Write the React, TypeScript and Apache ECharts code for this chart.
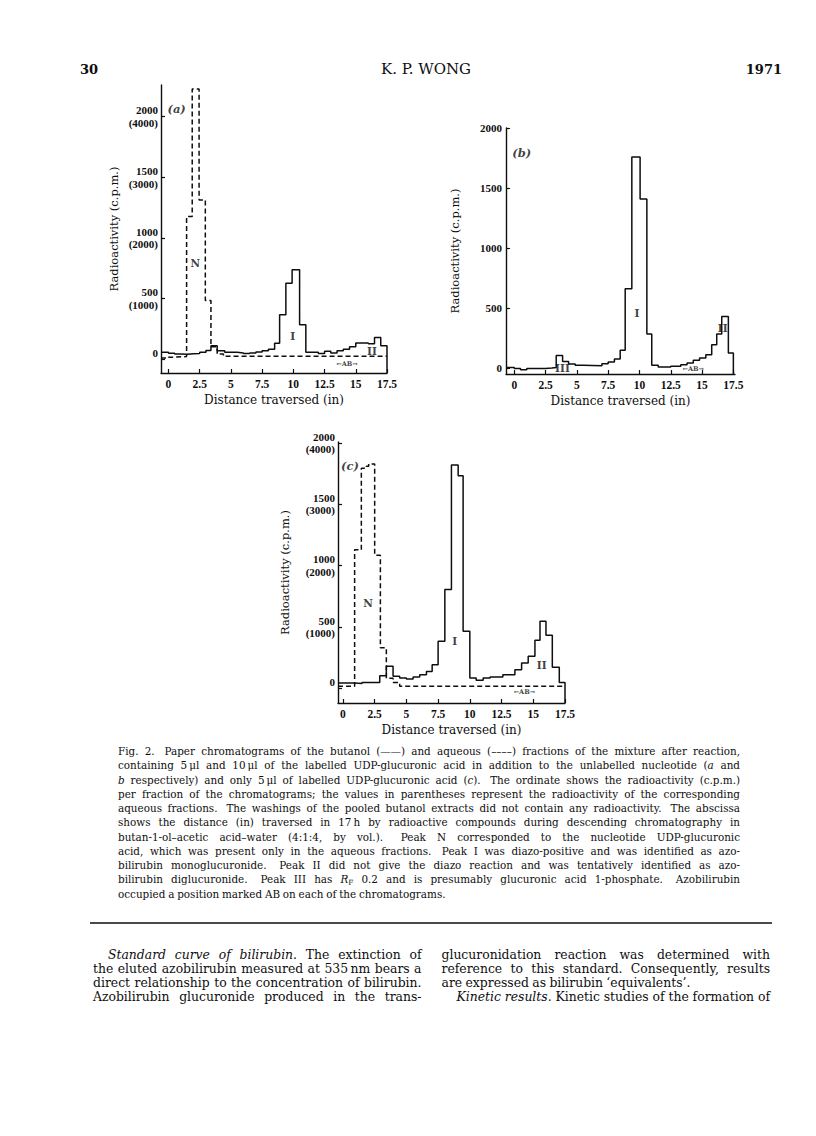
import React, { useEffect, useRef } from "react";
import * as echarts from "echarts";

const SERIF = '"DejaVu Serif", "Liberation Serif", serif';
const TICKFONT = '"Liberation Serif", "DejaVu Serif", serif';
const INK = "#0e0e0e";

// ---------- axis ticks ----------
const X_TICKS = [0, 2.5, 5, 7.5, 10, 12.5, 15, 17.5];
const Y_TICKS = [0, 500, 1000, 1500, 2000];

// ---------- panel (a) ----------
const A_X_RANGE = [-0.6, 17.5];
const A_Y_RANGE = [-116, 2262];
const A_BUT_EDGES = [-0.6, 0, 0.5, 1.0, 1.5, 2.0, 2.5, 3.0, 3.4, 3.9, 4.5, 5.5, 6.0, 6.5, 7.0, 7.5, 8.0, 8.5, 8.9, 9.4, 9.9, 10.5, 11.0, 12.0, 12.5, 13.0, 13.5, 14.0, 14.5, 15.0, 16.0, 16.5, 17.0, 17.5];
const A_BUT_VALUES = [55, 48, 40, 38, 42, 45, 55, 70, 108, 68, 55, 50, 44, 50, 58, 68, 80, 130, 365, 626, 736, 283, 55, 44, 63, 50, 68, 80, 100, 132, 126, 178, 110];
const A_AQ_EDGES = [-0.6, 0, 0.5, 1.45, 1.9, 2.45, 2.95, 3.4, 3.9, 4.4, 17.5];
const A_AQ_VALUES = [8, 15, 20, 1176, 2228, 1313, 483, 100, 40, 22];
const A_NOTES: [number, number, string][] = [
  [0.65, 2060, "(a)"],
  [2.15, 790, "N"],
  [9.95, 190, "I"],
  [16.3, 63, "II"],
  [14.3, -45, "←AB→"],
];

// ---------- panel (b) ----------
const B_X_RANGE = [-0.66, 17.63];
const B_Y_RANGE = [-50, 2000];
const B_EDGES = [-0.66, 0, 0.5, 1.0, 2.5, 3.0, 3.35, 3.86, 4.34, 4.87, 5.5, 7.0, 7.5, 8.0, 8.46, 8.86, 9.39, 10.05, 10.59, 10.98, 11.5, 12.5, 13.3, 13.8, 14.3, 14.8, 15.3, 15.77, 16.17, 16.57, 17.1, 17.5];
const B_VALUES = [5, -5, -14, -5, 0, 5, 105, 55, 33, 22, 19, 36, 50, 75, 147, 661, 1758, 1408, 283, 22, 8, 14, 28, 42, 64, 83, 111, 194, 283, 430, 125];
const B_NOTES: [number, number, string][] = [
  [0.6, 1790, "(b)"],
  [9.8, 460, "I"],
  [3.85, -2, "III"],
  [16.65, 333, "II"],
  [14.3, -10, "←AB→"],
];

// ---------- panel (c) ----------
const C_X_RANGE = [-0.39, 17.5];
const C_Y_RANGE = [-122, 2008];
const C_BUT_EDGES = [-0.39, 0.9, 1.5, 2.9, 3.42, 3.95, 4.47, 5.0, 5.53, 6.05, 6.58, 7.03, 7.5, 8.03, 8.55, 9.08, 9.47, 10.0, 10.5, 11.05, 11.6, 12.6, 13.55, 14.08, 14.6, 15.13, 15.53, 16.0, 16.5, 17.05, 17.5];
const C_BUT_VALUES = [41, 38, 45, 100, 177, 96, 82, 74, 90, 109, 136, 191, 382, 805, 1821, 1733, 464, 82, 63, 82, 90, 109, 150, 205, 259, 390, 546, 431, 169, 46];
const C_AQ_EDGES = [-0.39, 0.92, 1.45, 1.84, 2.03, 2.5, 2.95, 3.42, 3.95, 4.47, 17.5];
const C_AQ_VALUES = [14, 1128, 1794, 1810, 1829, 1084, 328, 80, 45, 14];
const C_NOTES: [number, number, string][] = [
  [0.55, 1815, "(c)"],
  [1.97, 696, "N"],
  [8.8, 382, "I"],
  [15.66, 191, "II"],
  [14.3, -35, "←AB→"],
];

// ---------- page text ----------
const HEADER = ["30", "K. P. WONG", "1971"];
const CAPTION_LINES = [
  "Fig. 2.  Paper chromatograms of the butanol (——) and aqueous (––––) fractions of the mixture after reaction,",
  "containing 5\u2009μl and 10\u2009μl of the labelled UDP-glucuronic acid in addition to the unlabelled nucleotide (*a* and",
  "*b* respectively) and only 5\u2009μl of labelled UDP-glucuronic acid (*c*).  The ordinate shows the radioactivity (c.p.m.)",
  "per fraction of the chromatograms; the values in parentheses represent the radioactivity of the corresponding",
  "aqueous fractions.  The washings of the pooled butanol extracts did not contain any radioactivity.  The abscissa",
  "shows the distance (in) traversed in 17\u2009h by radioactive compounds during descending chromatography in",
  "butan-1-ol–acetic acid–water (4:1:4, by vol.).  Peak N corresponded to the nucleotide UDP-glucuronic",
  "acid, which was present only in the aqueous fractions.  Peak I was diazo-positive and was identified as azo-",
  "bilirubin monoglucuronide.  Peak II did not give the diazo reaction and was tentatively identified as azo-",
  "bilirubin diglucuronide.  Peak III has *R*_F 0.2 and is presumably glucuronic acid 1-phosphate.  Azobilirubin",
  "occupied a position marked AB on each of the chromatograms.",
];
const LEFT_COLUMN = [
  "*Standard curve of bilirubin*. The extinction of",
  "the eluted azobilirubin measured at 535\u2009nm bears a",
  "direct relationship to the concentration of bilirubin.",
  "Azobilirubin glucuronide produced in the trans-",
];
const RIGHT_COLUMN = [
  "glucuronidation reaction was determined with",
  "reference to this standard. Consequently, results",
  "are expressed as bilirubin ‘equivalents’.",
  "*Kinetic results*. Kinetic studies of the formation of",
];

type Seg = { t: string; k: "n" | "i" | "s" };

function parseLine(line: string) {
  const parts = line.split(/( +)/);
  let italic = false;
  const words: Seg[][] = [];
  const gaps: number[] = [];
  for (const p of parts) {
    if (p === "") continue;
    if (/^ +$/.test(p)) {
      gaps.push(p.length);
      continue;
    }
    const segs: Seg[] = [];
    let cur = "";
    for (let i = 0; i < p.length; i++) {
      const c = p[i];
      if (c === "*") {
        if (cur) segs.push({ t: cur, k: italic ? "i" : "n" });
        cur = "";
        italic = !italic;
        continue;
      }
      if (c === "_") {
        if (cur) segs.push({ t: cur, k: italic ? "i" : "n" });
        cur = "";
        segs.push({ t: p[i + 1], k: "s" });
        i++;
        continue;
      }
      cur += c;
    }
    if (cur) segs.push({ t: cur, k: italic ? "i" : "n" });
    words.push(segs);
  }
  return { words, gaps };
}

function steps(edges: number[], values: number[], dropTo?: number) {
  const d: number[][] = values.map((v, i) => [edges[i], v]);
  d.push([edges[edges.length - 1], values[values.length - 1]]);
  if (dropTo !== undefined) d.push([edges[edges.length - 1], dropTo]);
  return d;
}

export default function App() {
  const ref = useRef<HTMLDivElement>(null);

  useEffect(() => {
    if (!ref.current) return;
    const chart = echarts.init(ref.current, undefined, { renderer: "svg" });

    const canvas = document.createElement("canvas");
    const ctx = canvas.getContext("2d")!;
    const measure = (t: string, size: number, italic = false) => {
      ctx.font = `${italic ? "italic " : ""}${size}px ${SERIF}`;
      return ctx.measureText(t).width;
    };
    const segW = (s: Seg, size: number) =>
      s.k === "s" ? measure(s.t, size * 0.7) : measure(s.t, size, s.k === "i");

    const graphics: any[] = [];

    const block = (
      lines: string[],
      left: number,
      right: number,
      y0: number,
      dy: number,
      size: number,
      spaceFit: number,
      justify: boolean[],
      indent: number[]
    ) => {
      const parsed = lines.map(parseLine);
      const weight = (n: number) => (n > 1 ? 1.6 : 1);
      const space = measure(" ", size);
      // horizontal condensing so the widest justified line fits with tight spaces
      let sx = 1;
      parsed.forEach((p, li) => {
        if (!justify[li]) return;
        const tot = p.words.reduce((a, w) => a + w.reduce((b, s) => b + segW(s, size), 0), 0);
        const sp = space * spaceFit * p.gaps.reduce((a, g) => a + weight(g), 0);
        const avail = right - left - indent[li];
        sx = Math.min(sx, avail / (tot + sp));
      });
      parsed.forEach((p, li) => {
        const widths = p.words.map((w) => w.reduce((b, s) => b + segW(s, size), 0) * sx);
        const tot = widths.reduce((a, b) => a + b, 0);
        const wsum = p.gaps.reduce((a, g) => a + weight(g), 0);
        const avail = right - left - indent[li];
        const unit = justify[li] && wsum > 0 ? (avail - tot) / wsum : space * sx * 0.85;
        let x = left + indent[li];
        const y = y0 + li * dy;
        p.words.forEach((w, wi) => {
          const plain = w.every((s) => s.k === "n");
          const style: any = plain
            ? { text: w.map((s) => s.t).join(""), fontFamily: SERIF, fontSize: size, fill: INK }
            : {
                text: w.map((s) => `{${s.k}|${s.t}}`).join(""),
                fill: INK,
                rich: {
                  n: { fontFamily: SERIF, fontSize: size, fill: INK, lineHeight: size * 1.3 },
                  i: { fontFamily: SERIF, fontSize: size, fontStyle: "italic", fill: INK, lineHeight: size * 1.3 },
                  s: { fontFamily: SERIF, fontSize: size * 0.7, fill: INK, verticalAlign: "bottom", lineHeight: size * 0.9 },
                },
              };
          style.align = "left";
          style.verticalAlign = "middle";
          graphics.push({ type: "text", x, y, scaleX: sx, silent: true, style });
          x += widths[wi] + (wi < p.gaps.length ? unit * weight(p.gaps[wi]) : 0);
        });
      });
    };

    block(CAPTION_LINES, 118, 740, 751, 14.27, 10.4, 0.75,
      CAPTION_LINES.map((_, i) => i < CAPTION_LINES.length - 1),
      CAPTION_LINES.map(() => 0));
    block(LEFT_COLUMN, 93, 421.5, 954.5, 14.1, 12.4, 0.6, [true, true, true, true], [15, 0, 0, 0]);
    block(RIGHT_COLUMN, 441.5, 770, 954.5, 14.1, 12.4, 0.6, [true, true, false, true], [0, 0, 0, 15]);

    graphics.push(
      { type: "text", x: 80, y: 69, style: { text: HEADER[0], fontFamily: SERIF, fontSize: 13, fontWeight: "bold", fill: INK, align: "left", verticalAlign: "middle" } },
      { type: "text", x: 426, y: 69, style: { text: HEADER[1], fontFamily: SERIF, fontSize: 15, fill: INK, align: "center", verticalAlign: "middle" } },
      { type: "text", x: 782, y: 69, style: { text: HEADER[2], fontFamily: SERIF, fontSize: 13, fontWeight: "bold", fill: INK, align: "right", verticalAlign: "middle" } },
      { type: "line", shape: { x1: 90, y1: 923, x2: 772, y2: 923 }, style: { stroke: INK, lineWidth: 1.5 } }
    );

    const mkX = (gi: number, range: number[]) => ({
      type: "value",
      gridIndex: gi,
      min: range[0],
      max: range[1],
      axisLine: { show: true, onZero: false, lineStyle: { color: INK, width: 1.4 } },
      axisTick: { show: true, inside: true, length: 4, customValues: X_TICKS, lineStyle: { color: INK, width: 1.2 } },
      axisLabel: {
        customValues: X_TICKS,
        formatter: (v: number) => String(v),
        color: INK,
        fontFamily: TICKFONT,
        fontWeight: "bold",
        fontSize: 11.5,
        margin: 5,
      },
      splitLine: { show: false },
      name: "Distance traversed (in)",
      nameLocation: "middle",
      nameGap: 21,
      nameTextStyle: { color: INK, fontFamily: SERIF, fontSize: 12 },
    });

    const mkY = (gi: number, range: number[], dual: boolean, gap: number) => ({
      type: "value",
      gridIndex: gi,
      min: range[0],
      max: range[1],
      axisLine: { show: true, onZero: false, lineStyle: { color: INK, width: 1.4 } },
      axisTick: { show: true, inside: true, length: 4, customValues: Y_TICKS, lineStyle: { color: INK, width: 1.2 } },
      axisLabel: dual
        ? {
            customValues: Y_TICKS,
            formatter: (v: number) => (v === 0 ? "0\n\u00a0" : `${v}\n(${v * 2})`),
            color: INK,
            fontFamily: TICKFONT,
            fontWeight: "bold",
            fontSize: 11,
            lineHeight: 12.5,
            padding: [12.5, 0, 0, 0],
            margin: 3,
          }
        : {
            customValues: Y_TICKS,
            formatter: (v: number) => String(v),
            color: INK,
            fontFamily: TICKFONT,
            fontWeight: "bold",
            fontSize: 11,
            margin: 4,
          },
      splitLine: { show: false },
      name: "Radioactivity (c.p.m.)",
      nameLocation: "middle",
      nameGap: gap,
      nameTextStyle: { color: INK, fontFamily: SERIF, fontSize: 11.5 },
    });

    const solid = (gi: number, data: number[][]) => ({
      type: "line",
      xAxisIndex: gi,
      yAxisIndex: gi,
      step: "end",
      symbol: "none",
      data,
      lineStyle: { color: INK, width: 1.5 },
      silent: true,
    });
    const dashed = (gi: number, data: number[][]) => ({
      type: "line",
      xAxisIndex: gi,
      yAxisIndex: gi,
      step: "end",
      symbol: "none",
      data,
      lineStyle: { color: INK, width: 1.5, type: [5, 3] },
      silent: true,
    });
    const notes = (gi: number, list: [number, number, string][]) => ({
      type: "scatter",
      xAxisIndex: gi,
      yAxisIndex: gi,
      symbolSize: 1,
      itemStyle: { color: "rgba(0,0,0,0)" },
      silent: true,
      data: list.map(([x, y, t]) => ({
        value: [x, y],
        name: t,
        label: t.startsWith("(")
          ? { fontStyle: "italic", fontSize: 11.5, fontWeight: "bold" }
          : t.includes("AB")
          ? { fontSize: 6.5, fontWeight: "bold" }
          : { fontSize: 10.5, fontWeight: "bold" },
      })),
      label: {
        show: true,
        position: "inside",
        formatter: "{b}",
        color: INK,
        fontFamily: SERIF,
      },
    });

    chart.setOption({
      animation: false,
      backgroundColor: "#ffffff",
      grid: [
        { left: 161, top: 85, width: 226, height: 288 },
        { left: 506, top: 128, width: 229, height: 246 },
        { left: 338, top: 442, width: 227, height: 261 },
      ],
      xAxis: [mkX(0, A_X_RANGE), mkX(1, B_X_RANGE), mkX(2, C_X_RANGE)],
      yAxis: [mkY(0, A_Y_RANGE, true, 41), mkY(1, B_Y_RANGE, false, 45), mkY(2, C_Y_RANGE, true, 47)],
      series: [
        solid(0, steps(A_BUT_EDGES, A_BUT_VALUES, A_Y_RANGE[0])),
        dashed(0, steps(A_AQ_EDGES, A_AQ_VALUES)),
        notes(0, A_NOTES),
        solid(1, steps(B_EDGES, B_VALUES, B_Y_RANGE[0])),
        notes(1, B_NOTES),
        solid(2, steps(C_BUT_EDGES, C_BUT_VALUES, C_Y_RANGE[0])),
        dashed(2, steps(C_AQ_EDGES, C_AQ_VALUES)),
        notes(2, C_NOTES),
      ],
      graphic: graphics,
    });

    return () => chart.dispose();
  }, []);

  return (
    <div
      ref={ref}
      style={{ position: "absolute", left: 0, top: 0, width: 816, height: 1136, background: "#fff" }}
    />
  );
}
